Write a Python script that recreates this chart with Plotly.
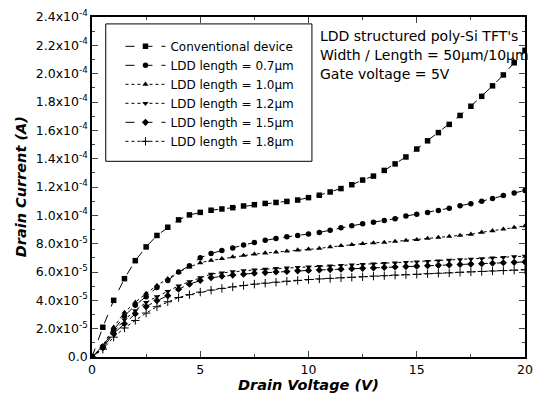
import plotly.graph_objects as go

vd = [0, 0.5, 1, 1.5, 2, 2.5, 3, 3.5, 4, 4.5, 5, 5.5, 6, 6.5, 7, 7.5, 8, 8.5, 9, 9.5, 10,
      10.5, 11, 11.5, 12, 12.5, 13, 13.5, 14, 14.5, 15, 15.5, 16, 16.5, 17, 17.5, 18, 18.5, 19, 19.5, 20]

# drain current in units of 1e-4 A
conv = [0, 0.21, 0.40, 0.553, 0.680, 0.777, 0.858, 0.916, 0.968, 1.003, 1.021, 1.036, 1.045, 1.054, 1.066,
        1.075, 1.084, 1.091, 1.098, 1.108, 1.125, 1.142, 1.165, 1.189, 1.216, 1.249, 1.277, 1.317, 1.363,
        1.412, 1.468, 1.526, 1.584, 1.642, 1.705, 1.770, 1.840, 1.914, 1.991, 2.077, 2.165]
ldd07 = [0, 0.075, 0.19, 0.29, 0.365, 0.425, 0.49, 0.54, 0.60, 0.645, 0.70, 0.731, 0.752, 0.770, 0.790,
         0.808, 0.824, 0.837, 0.848, 0.858, 0.869, 0.879, 0.895, 0.912, 0.926, 0.940, 0.951, 0.963, 0.976,
         0.995, 1.008, 1.020, 1.034, 1.050, 1.067, 1.082, 1.100, 1.119, 1.140, 1.158, 1.175]
ldd10 = [0, 0.08, 0.21, 0.315, 0.386, 0.449, 0.505, 0.553, 0.600, 0.635, 0.665, 0.682, 0.694, 0.706, 0.717,
         0.726, 0.734, 0.740, 0.747, 0.755, 0.761, 0.766, 0.777, 0.786, 0.793, 0.800, 0.805, 0.809, 0.816,
         0.823, 0.828, 0.837, 0.844, 0.851, 0.858, 0.866, 0.880, 0.891, 0.902, 0.915, 0.925]
ldd12 = [0, 0.07, 0.177, 0.263, 0.328, 0.386, 0.426, 0.463, 0.502, 0.532, 0.560, 0.585, 0.594, 0.602, 0.609,
         0.615, 0.620, 0.625, 0.629, 0.633, 0.637, 0.640, 0.643, 0.647, 0.650, 0.654, 0.657, 0.661, 0.664,
         0.668, 0.672, 0.675, 0.679, 0.683, 0.687, 0.691, 0.695, 0.699, 0.703, 0.708, 0.712]
ldd15 = [0, 0.065, 0.165, 0.235, 0.305, 0.356, 0.398, 0.433, 0.479, 0.514, 0.540, 0.560, 0.570, 0.578, 0.585,
         0.591, 0.596, 0.600, 0.604, 0.608, 0.611, 0.614, 0.617, 0.620, 0.623, 0.626, 0.629, 0.632, 0.635,
         0.638, 0.641, 0.644, 0.647, 0.650, 0.653, 0.656, 0.659, 0.662, 0.665, 0.668, 0.671]
ldd18 = [0, 0.055, 0.14, 0.205, 0.258, 0.31, 0.355, 0.39, 0.42, 0.44, 0.458, 0.472, 0.484, 0.495, 0.505,
         0.514, 0.521, 0.528, 0.535, 0.541, 0.547, 0.551, 0.555, 0.559, 0.563, 0.567, 0.571, 0.574, 0.578,
         0.581, 0.584, 0.588, 0.591, 0.594, 0.598, 0.601, 0.604, 0.607, 0.610, 0.613, 0.616]

names = ["Conventional device", "LDD length = 0.7\u00b5m", "LDD length = 1.0\u00b5m",
         "LDD length = 1.2\u00b5m", "LDD length = 1.5\u00b5m", "LDD length = 1.8\u00b5m"]
series = [conv, ldd07, ldd10, ldd12, ldd15, ldd18]
symbols = ["square", "circle", "triangle-up", "triangle-down", "diamond", "cross-thin-open"]
dashes = ["dash", "dash", "dot", "dot", "dash", "dot"]

ytickvals = [0, 0.2, 0.4, 0.6, 0.8, 1.0, 1.2, 1.4, 1.6, 1.8, 2.0, 2.2, 2.4]
yticktext = ["0.0", "2.0x10<sup>-5</sup>", "4.0x10<sup>-5</sup>", "6.0x10<sup>-5</sup>", "8.0x10<sup>-5</sup>",
             "1.0x10<sup>-4</sup>", "1.2x10<sup>-4</sup>", "1.4x10<sup>-4</sup>", "1.6x10<sup>-4</sup>",
             "1.8x10<sup>-4</sup>", "2.0x10<sup>-4</sup>", "2.2x10<sup>-4</sup>", "2.4x10<sup>-4</sup>"]
xtickvals = [0, 5, 10, 15, 20]

FONT = "DejaVu Sans, Liberation Sans, sans-serif"

fig = go.Figure()
for name, ys, sym, dsh in zip(names, series, symbols, dashes):
    mk = dict(symbol=sym, size=5.5, color="black")
    if sym == "cross-thin-open":
        mk = dict(symbol=sym, size=6, color="black", line=dict(width=1, color="black"))
    fig.add_trace(go.Scatter(x=vd, y=ys, name=name, mode="lines+markers",
                             line=dict(color="black", width=1, dash=dsh), marker=mk))

L, R, T, B = 92, 8, 13, 53
W, H = 541, 410
pw, ph = W - L - R, H - T - B

def px(xp):
    return (xp - L) / pw

def py(yp):
    return (H - B - yp) / ph

fig.update_layout(
    width=W, height=H, margin=dict(l=L, r=R, t=T, b=B),
    paper_bgcolor="white", plot_bgcolor="white",
    font=dict(family=FONT, size=12, color="black"),
    showlegend=True,
    legend=dict(x=px(121), y=py(28), xanchor="left", yanchor="top", itemwidth=40,
                bgcolor="rgba(0,0,0,0)", borderwidth=0, tracegroupgap=0,
                font=dict(family=FONT, size=12, color="black")),
    xaxis=dict(range=[0, 20], tickvals=xtickvals, ticks="inside", ticklen=6, tickwidth=1.2,
               showline=True, linecolor="black", linewidth=1.5, mirror="allticks",
               showgrid=False, zeroline=False, tickfont=dict(size=12.5),
               minor=dict(tickvals=[2.5, 7.5, 12.5, 17.5], ticks="inside", ticklen=3, tickwidth=1)),
    yaxis=dict(range=[0, 2.4], tickvals=ytickvals, ticktext=yticktext, ticks="inside", ticklen=6,
               tickwidth=1.2, showline=True, linecolor="black", linewidth=1.5, mirror="allticks",
               showgrid=False, zeroline=False, tickfont=dict(size=12.5),
               minor=dict(dtick=0.1, ticks="inside", ticklen=3, tickwidth=1)),
)

# legend frame
fig.add_shape(type="rect", xref="paper", yref="paper", x0=px(106), x1=px(316), y0=py(159), y1=py(20),
              line=dict(color="black", width=1))

info = ["LDD structured poly-Si TFT's", "Width / Length = 50\u00b5m/10\u00b5m", "Gate voltage = 5V"]
for i, t in enumerate(info):
    fig.add_annotation(text=t, xref="paper", yref="paper", x=px(322), y=py(32 + 19.5 * i),
                       xanchor="left", yanchor="middle", showarrow=False,
                       font=dict(family=FONT, size=14, color="black"))

fig.add_annotation(text="<b><i>Drain Current (A)</i></b>", xref="paper", yref="paper",
                   x=px(20), y=py(185), textangle=-90, showarrow=False,
                   xanchor="center", yanchor="middle", font=dict(family=FONT, size=14.5, color="black"))
fig.add_annotation(text="<b><i>Drain Voltage (V)</i></b>", xref="paper", yref="paper",
                   x=px(313), y=py(385), showarrow=False,
                   xanchor="center", yanchor="middle", font=dict(family=FONT, size=14.5, color="black"))

fig.write_html("out.html")
